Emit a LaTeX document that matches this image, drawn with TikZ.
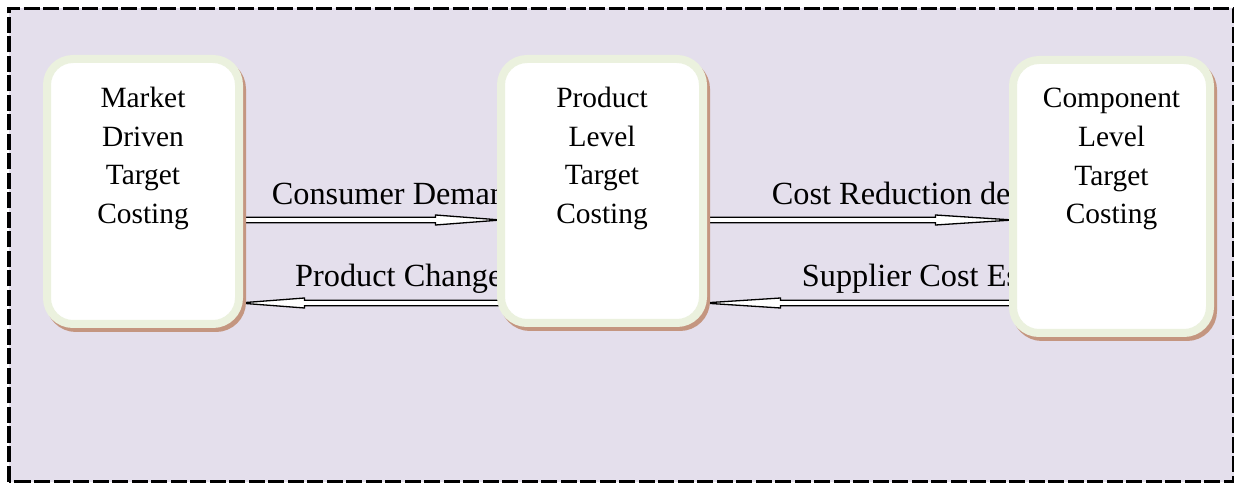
\documentclass[tikz,border=0pt]{standalone}
\usepackage{fontspec}
\setmainfont{Liberation Serif}
\usetikzlibrary{positioning,calc,shadows}
\definecolor{bglavender}{RGB}{228,223,236}
\definecolor{palegreen}{RGB}{235,241,222}
\definecolor{shadowbrown}{RGB}{196,150,128}
\pgfdeclarelayer{back}
\pgfsetlayers{back,main}
\newcommand\fatarrow[2]{%
\draw[line width=1.3pt, fill=white] let \p1=(#1), \p2=(#2), \n1={0.25*(\x2-\x1)} in
  (\x1,\y1+2.7pt) -- (\x2-\n1,\y1+2.7pt) -- (\x2-\n1,\y1+5pt) -- (\x2,\y1)
  -- (\x2-\n1,\y1-5pt) -- (\x2-\n1,\y1-2.7pt) -- (\x1,\y1-2.7pt) -- cycle;
}

\begin{document}
\begin{tikzpicture}[x=1pt,y=1pt,
  box/.style={draw=palegreen, line width=8pt, fill=white, rounded corners=26pt,
    inner sep=0pt, outer sep=0pt,
    drop shadow={shadow xshift=3pt, shadow yshift=-4pt, fill=shadowbrown,
      draw=shadowbrown, line width=8pt, opacity=1}},
  boxtext/.style={align=center, inner sep=0pt, font=\fontsize{29.4}{38.7}\selectfont},
  flowlabel/.style={anchor=base west, inner sep=0pt, font=\fontsize{32.3}{36}\selectfont}]
	%% page size
	\useasboundingbox (0,0) rectangle (1234,482);

	\coordinate (upper) at (0,262); % upper arrow row
	\coordinate (lower) at (0,179); % lower arrow row

	% the three levels
	\node[box, minimum width=192pt, minimum height=265pt] (market) at (143,290.5) {};
	\node[box, minimum width=202pt, minimum height=264pt] (product) at (602,291) {};
	\node[box, minimum width=197pt, minimum height=273pt] (component) at (1111.5,285.5) {};

	\node[boxtext, below=28pt of market.north] (market text) {Market\\Driven\\Target\\Costing};
	\node[boxtext, below=28pt of product.north] (product text) {Product\\Level\\Target\\Costing};
	\node[boxtext, below=28pt of component.north] (component text) {Component\\Level\\Target\\Costing};

	\begin{pgfonlayer}{back}
	\fill[bglavender] (9,0.5) rectangle (1233.5,473.5);

	\fatarrow{market.east |- upper}{product.west |- upper}
	\fatarrow{product.west |- lower}{market.east |- lower}
	\fatarrow{product.east |- upper}{component.west |- upper}
	\fatarrow{component.west |- lower}{product.east |- lower}

	\node[flowlabel] (demand label) at (271.7,277) {Consumer Deman};
	\node[flowlabel] (change label) at (295,195.3) {Product Change};
	\node[flowlabel] (reduction label) at (771.7,277) {Cost Reduction de};
	\node[flowlabel] (estimate label) at (801.7,195.3) {Supplier Cost Es};
	\end{pgfonlayer}

	% dashed frame
	\draw[line width=3.5pt, dash pattern=on 16pt off 3.5pt] (9,0.5) rectangle (1233.5,473.5);
\end{tikzpicture}
\end{document}
